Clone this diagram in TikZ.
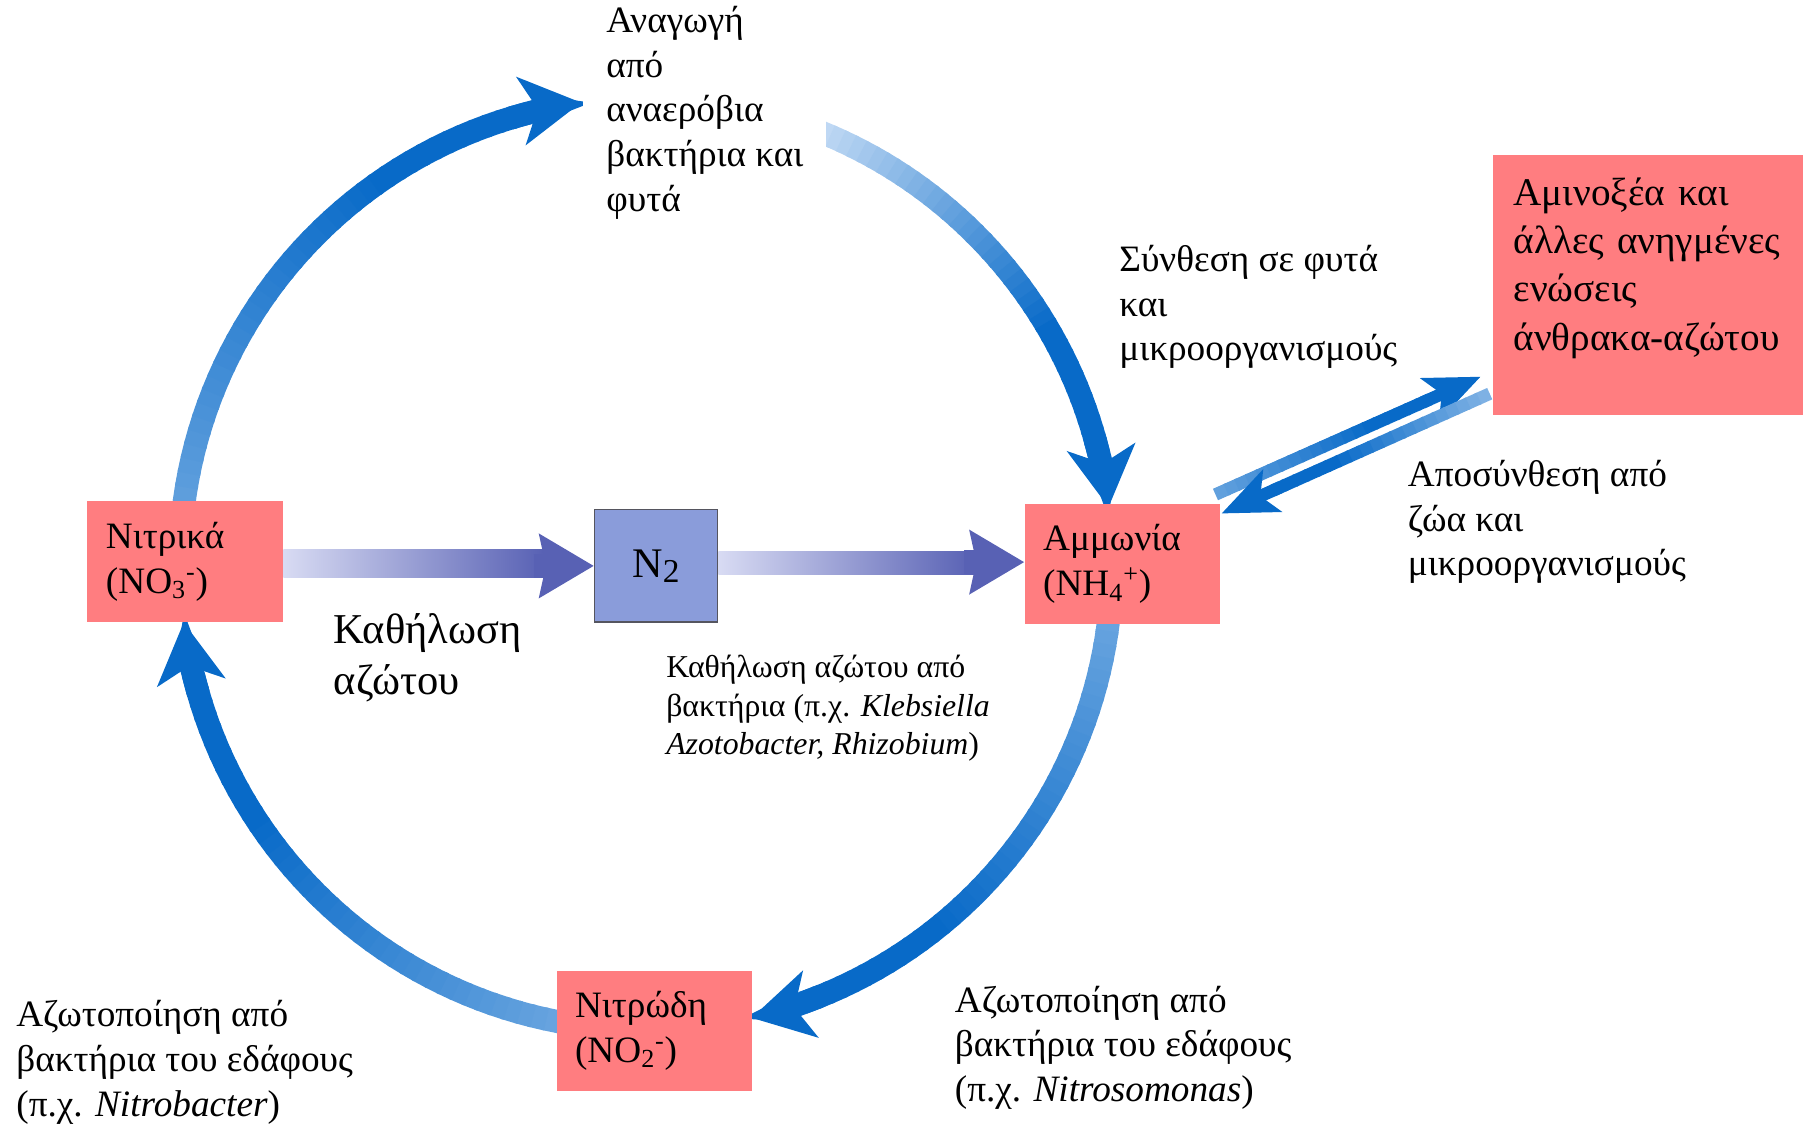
\documentclass[tikz,border=0pt]{standalone}
\usepackage{fontspec}
\setmainfont{Liberation Serif}
\usetikzlibrary{arrows.meta,calc}
\definecolor{boxpink}{RGB}{255,125,128}
\definecolor{ntwofill}{RGB}{138,156,218}
\definecolor{ntwoline}{RGB}{85,85,95}
\definecolor{arclight}{RGB}{205,225,247}
\definecolor{arcdark}{RGB}{8,106,200}
\definecolor{lavlight}{RGB}{216,219,243}
\definecolor{lavdark}{RGB}{88,97,180}
\tikzset{
  chem/.style={fill=boxpink, minimum height=2.41cm, text width=3.17cm, inner xsep=0.37cm, align=left, font=\fontsize{21.2}{25.5}\selectfont},
  note/.style={anchor=west, align=left, inner sep=0pt, font=\fontsize{21.2}{25.5}\selectfont},
  band/.style={line width=0.46cm},
  bluetip/.style={-{Stealth[length=1.2cm,width=1.35cm,inset=0.32cm]}},
  bartip/.style={-{Stealth[length=1.1cm,width=0.9cm,inset=0.25cm]}},
  lavtip/.style={-{Stealth[length=1.08cm,width=1.24cm,inset=0.12cm]}}
}
\def\bluearc#1#2#3{%
  \pgfmathsetmacro\arcstep{(#2-#1-7)/40}%
  \foreach \k in {0,...,39}{%
    \pgfmathsetmacro\pa{#1+\k*\arcstep}%
    \pgfmathsetmacro\pb{\pa+\arcstep+0.4}%
    \pgfmathsetmacro\pc{#3+(100-#3)*min(1,\k/28)}%
    \draw[band, arcdark!\pc!arclight] (ctr) ++(\pa:466) arc[start angle=\pa, end angle=\pb, radius=466];
  }%
  \draw[band, arcdark, bluetip] (ctr) ++(#2-9:466) arc[start angle=#2-9, end angle=#2, radius=466];
}
\def\bluebar#1#2#3{%
  \foreach \k in {0,...,19}{%
    \pgfmathsetmacro\ta{\k/20*0.8}%
    \pgfmathsetmacro\tb{(\k+1.2)/20*0.8}%
    \pgfmathsetmacro\pc{#3+(100-#3)*min(1,\k/14)}%
    \draw[line width=0.25cm, arcdark!\pc!arclight] ($(#1)!\ta!(#2)$) -- ($(#1)!\tb!(#2)$);
  }%
  \draw[line width=0.25cm, arcdark, bartip] ($(#1)!0.78!(#2)$) -- (#2);
}

\begin{document}
\begin{tikzpicture}[x=0.02cm, y=-0.02cm]
\useasboundingbox (0,0) rectangle (1803,1127);
\clip (0,0) rectangle (1803,1127);
\coordinate (ctr) at (646,564);
\bluearc{186}{262}{55}
\bluearc{289}{353}{0}
\bluearc{5}{76.9}{50}
\bluearc{99}{172.8}{50}

\node[chem] (nitrate) at (185.2,561.7) {Νιτρικά\\(NO\textsubscript{3}\textsuperscript{-})};
\node[chem] (ammonium) at (1122.4,564.1) {Αμμωνία\\(NH\textsubscript{4}\textsuperscript{+})};
\node[chem] (nitrite) at (654.3,1030.8) {Νιτρώδη\\(NO\textsubscript{2}\textsuperscript{-})};
\node[draw=ntwoline, fill=ntwofill, line width=0.8pt, minimum width=2.46cm, minimum height=2.25cm, font=\fontsize{24}{26}\selectfont] (ntwo) at (656.1,565.9) {N\raisebox{-0.28ex}{\fontsize{19}{19}\selectfont 2}};
\node[chem, anchor=north west, text width=5.9cm, inner xsep=0.41cm, minimum height=5.2cm, text height=0.7cm, text depth=3.9cm, font=\fontsize{22.3}{27.5}\selectfont] (amino) at (1492.7,155) {Αμινοξέα και\\άλλες ανηγμένες\\ενώσεις\\άνθρακα-αζώτου};

\node[note, fill=white, inner xsep=0.46cm] (reduct) at (583,112.7) {Αναγωγή\\από\\αναερόβια\\βακτήρια και\\φυτά};
\node[note] (synth) at (1119,307) {Σύνθεση σε φυτά\\και\\μικροοργανισμούς};
\node[note] (decomp) at (1407.6,522) {Αποσύνθεση από\\ζώα και\\μικροοργανισμούς};
\node[note, font=\fontsize{24.2}{28.8}\selectfont] (fixbig) at (333.5,657.8) {Καθήλωση\\αζώτου};
\node[note, font=\fontsize{18.1}{21.9}\selectfont] (fixbact) at (665.9,708.4) {Καθήλωση αζώτου από\\βακτήρια (π.χ. \textit{Klebsiella}\\\textit{Azotobacter, Rhizobium})};
\node[note] (nitrleft) at (16,1062.6) {Αζωτοποίηση από\\βακτήρια του εδάφους\\(π.χ. \textit{Nitrobacter})};
\node[note] (nitrright) at (954.5,1047.7) {Αζωτοποίηση από\\βακτήρια του εδάφους\\(π.χ. \textit{Nitrosomonas})};

\shade[left color=lavlight, right color=lavdark] ($(nitrate.east)+(0,-12)$) rectangle ($(ntwo.west)+(-50,12)$);
\draw[lavdark, line width=0.48cm, lavtip] ($(ntwo.west)+(-60,0)$) -- (ntwo.west);
\shade[left color=lavlight, right color=lavdark] ($(ntwo.east)+(0,-14)$) rectangle ($(ammonium.west)+(-50,10)$);
\draw[lavdark, line width=0.48cm, lavtip] ($(ammonium.west)+(-60,-2)$) -- ($(ammonium.west)+(0,-2)$);

\coordinate (upA) at ($(ammonium.north east)+(-5,-9)$);
\coordinate (upB) at ($(amino.south west)+(-12,-39)$);
\coordinate (loA) at ($(amino.south west)+(-3,-22)$);
\coordinate (loB) at ($(ammonium.north east)+(1,10)$);
\bluebar{upA}{upB}{55}
\bluebar{loA}{loB}{40}
\end{tikzpicture}
\end{document}
